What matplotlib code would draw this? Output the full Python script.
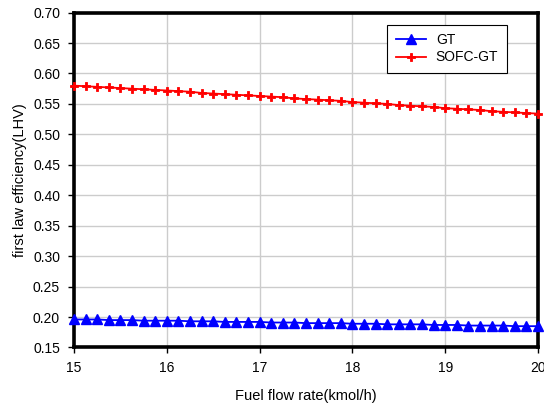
import matplotlib
matplotlib.use('Agg')
import matplotlib.pyplot as plt

plt.rcParams['font.family'] = ['Liberation Sans', 'DejaVu Sans']

# fuel flow rate (kmol/h)
fuel_flow = [15.0, 15.125, 15.25, 15.375, 15.5, 15.625, 15.75, 15.875,
             16.0, 16.125, 16.25, 16.375, 16.5, 16.625, 16.75, 16.875,
             17.0, 17.125, 17.25, 17.375, 17.5, 17.625, 17.75, 17.875,
             18.0, 18.125, 18.25, 18.375, 18.5, 18.625, 18.75, 18.875,
             19.0, 19.125, 19.25, 19.375, 19.5, 19.625, 19.75, 19.875,
             20.0]

gt_eff = [0.196, 0.196, 0.196, 0.195, 0.195, 0.195, 0.194, 0.194, 0.194, 0.194,
          0.193, 0.193, 0.193, 0.192, 0.192, 0.192, 0.192, 0.191, 0.191, 0.191,
          0.190, 0.190, 0.190, 0.190, 0.189, 0.189, 0.189, 0.188, 0.188, 0.188,
          0.188, 0.187, 0.187, 0.187, 0.186, 0.186, 0.186, 0.186, 0.185, 0.185,
          0.185]

sofc_gt_eff = [0.580, 0.579, 0.578, 0.577, 0.576, 0.575, 0.574, 0.573, 0.572, 0.571,
               0.570, 0.568, 0.567, 0.566, 0.565, 0.564, 0.563, 0.562, 0.561, 0.559,
               0.558, 0.557, 0.556, 0.555, 0.553, 0.552, 0.551, 0.550, 0.548, 0.547,
               0.546, 0.545, 0.543, 0.542, 0.541, 0.540, 0.538, 0.537, 0.536, 0.535,
               0.534]

x_ticks = [15, 16, 17, 18, 19, 20]
y_ticks = [0.15, 0.20, 0.25, 0.30, 0.35, 0.40, 0.45, 0.50, 0.55, 0.60, 0.65, 0.70]

fig = plt.figure(figsize=(5.44, 4.05), dpi=100)
ax = fig.add_axes([0.136, 0.142, 0.853, 0.827])

ax.plot(fuel_flow, gt_eff, color='blue', lw=1.3, marker='^', ms=6.5,
        label='GT', clip_on=False, zorder=3)
ax.plot(fuel_flow, sofc_gt_eff, color='red', lw=1.3, marker='P', ms=6,
        markeredgewidth=0.6, label='SOFC-GT', clip_on=False, zorder=3)

ax.set_xlim(15, 20)
ax.set_ylim(0.15, 0.70)
ax.set_xticks(x_ticks)
ax.set_yticks(y_ticks)
ax.set_yticklabels(['%.2f' % v for v in y_ticks])
ax.grid(True, color='#cccccc', lw=1)
ax.set_axisbelow(True)

for s in ax.spines.values():
    s.set_linewidth(2.6)
    s.set_color('black')
ax.tick_params(direction='out', length=4, width=1, labelsize=10, pad=6)

ax.set_xlabel('Fuel flow rate(kmol/h)', fontsize=10.5, labelpad=10)
ax.set_ylabel('first law efficiency(LHV)', fontsize=10.5, labelpad=4)

leg = ax.legend(loc='upper left', bbox_to_anchor=(0.675, 0.964), fontsize=10,
                fancybox=False, framealpha=1, edgecolor='black',
                borderaxespad=0, borderpad=0.6, labelspacing=0.25,
                handlelength=2.2, handletextpad=0.7)
leg.get_frame().set_linewidth(0.8)

fig.savefig('out.png', dpi=100)
